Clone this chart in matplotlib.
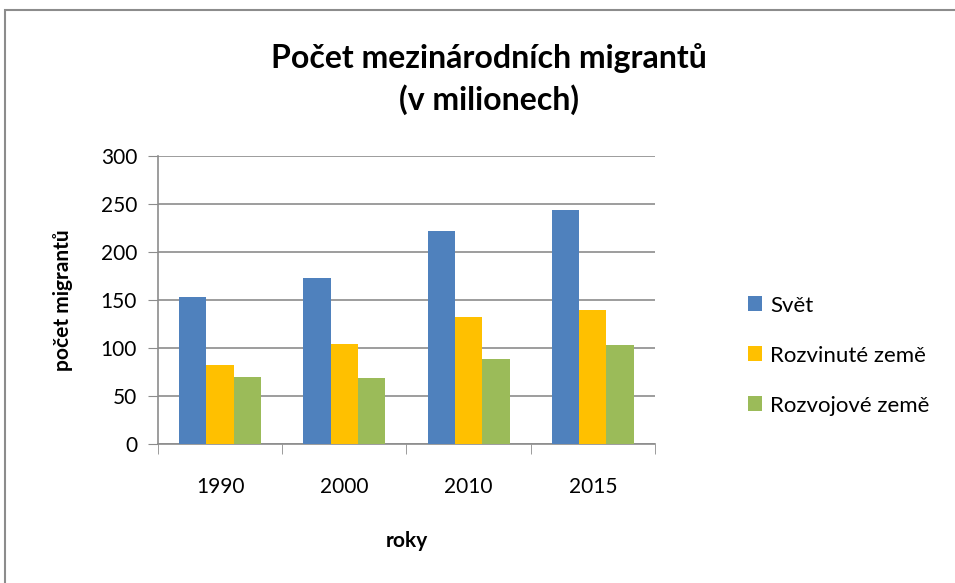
import numpy as np
import matplotlib.pyplot as plt
from matplotlib.patches import Rectangle

plt.rcParams['font.family'] = ['Lato', 'DejaVu Sans']

# data (v milionech)
roky = ['1990', '2000', '2010', '2015']
svet = [153, 173, 222, 244]
rozvinute = [82, 104, 132, 140]
rozvojove = [70, 69, 89, 103]
serie = ['Svět', 'Rozvinuté země', 'Rozvojové země']
barvy = ['#4F81BD', '#FFC000', '#9BBB59']

fig = plt.figure(figsize=(9.55, 5.83), dpi=100)
# rámeček kolem grafu
fig.patches.append(Rectangle((5 / 955, -0.1), 1.2, 1.1 - 10 / 583,
                             transform=fig.transFigure, fill=False,
                             edgecolor='#8c8c8c', linewidth=1.5))

ax = fig.add_axes([0.1654, 0.2384, 0.5204, 0.494])

x = np.arange(len(roky))
w = 0.22
for i, (hodnoty, nazev, c) in enumerate(zip([svet, rozvinute, rozvojove], serie, barvy)):
    ax.bar(x + (i - 1) * w, hodnoty, w, color=c, label=nazev, zorder=3)

ax.set_xlim(-0.5, 3.5)
ax.set_ylim(0, 300)
ax.set_yticks(range(0, 301, 50))
ax.set_xticks(x)
ax.set_xticklabels(roky)
ax.set_xticks(np.arange(-0.5, 4, 1), minor=True)
ax.tick_params(axis='x', which='major', length=0, pad=24, labelsize=15)
ax.tick_params(axis='x', which='minor', length=7, color='#8c8c8c', direction='out')
ax.tick_params(axis='y', length=7, color='#8c8c8c', labelsize=15, pad=8)
ax.grid(axis='y', color='#8c8c8c', linewidth=1.2, zorder=0)
for s in ['top', 'right']:
    ax.spines[s].set_visible(False)
for s in ['left', 'bottom']:
    ax.spines[s].set_color('#8c8c8c')
    ax.spines[s].set_linewidth(1.2)

ax.set_xlabel('roky', fontsize=15, fontweight='bold', labelpad=24)
ax.set_ylabel('počet migrantů', fontsize=15, fontweight='bold', labelpad=20)

fig.text(0.512, 0.864, 'Počet mezinárodních migrantů\n(v milionech)',
         ha='center', va='center', fontsize=23, fontweight='bold', linespacing=1.45)

fig.legend(loc='center left', bbox_to_anchor=(0.762, 0.39), frameon=False,
           fontsize=16, handlelength=0.65, handleheight=0.65, labelspacing=1.35,
           handletextpad=0.35)

fig.savefig('out.png', dpi=100)
